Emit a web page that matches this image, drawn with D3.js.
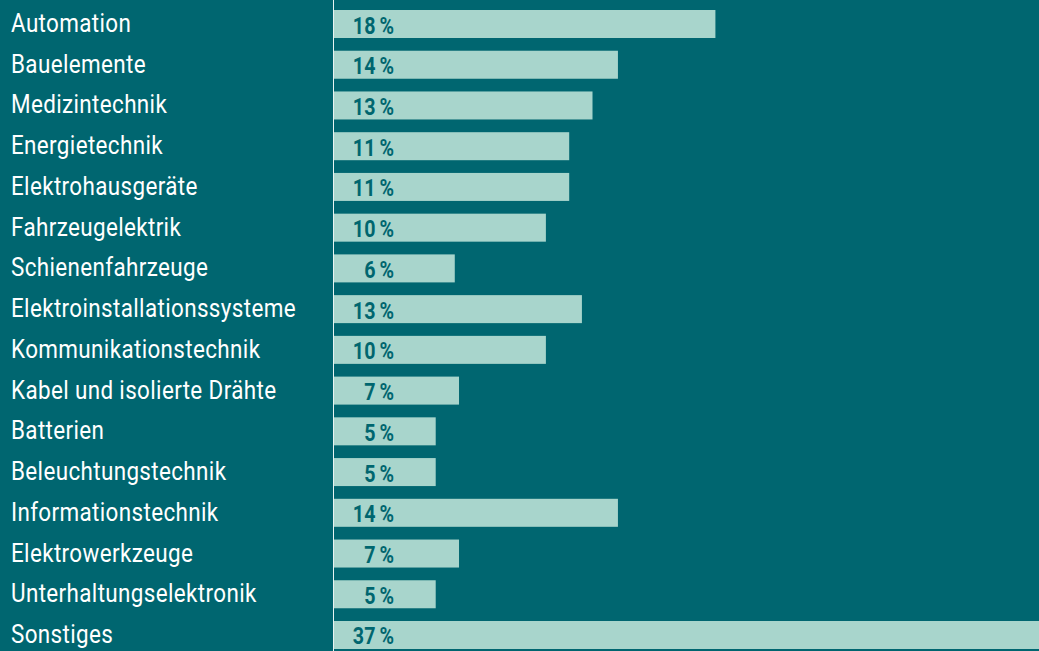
<!DOCTYPE html>
<html>
  <head>
    <meta charset="utf-8">
    <title>Branchen</title>
    <script src="https://d3js.org/d3.v7.min.js"></script>
    <style>
      body { margin: 0; background: #006670; }
      svg { display: block; }
    </style>
  </head>
  <body>
    <svg width="1039" height="651"></svg>
    <script>
      // Kategorien, angezeigte Anteile und aus dem Bild gelesene Balkenlängen
      const categories = [
        "Automation", "Bauelemente", "Medizintechnik", "Energietechnik",
        "Elektrohausgeräte", "Fahrzeugelektrik", "Schienenfahrzeuge",
        "Elektroinstallationssysteme", "Kommunikationstechnik",
        "Kabel und isolierte Drähte", "Batterien", "Beleuchtungstechnik",
        "Informationstechnik", "Elektrowerkzeuge", "Unterhaltungselektronik",
        "Sonstiges"
      ];
      const shares = [18, 14, 13, 11, 11, 10, 6, 13, 10, 7, 5, 5, 14, 7, 5, 37];
      const barValues = [18.0, 13.4, 12.2, 11.1, 11.1, 10.0, 5.7, 11.7, 10.0, 5.9, 4.8, 4.8, 13.4, 5.9, 4.8, 37];

      const data = categories.map((c, i) => ({name: c, share: shares[i], value: barValues[i]}));

      const svg = d3.select("svg");
      const width = +svg.attr("width");
      const height = +svg.attr("height");
      const axisX = 334;

      const x = d3.scaleLinear().domain([0, 37]).range([axisX, axisX + 784]);
      const y = d3.scaleBand()
        .domain(categories)
        .range([10, 649])
        .paddingInner(0.3126)
        .paddingOuter(0);

      svg.append("rect").attr("width", width).attr("height", height).attr("fill", "#006670");

      svg.selectAll("rect.bar").data(data).enter().append("rect")
        .attr("class", "bar")
        .attr("x", x(0))
        .attr("y", d => y(d.name))
        .attr("width", d => x(d.value) - x(0))
        .attr("height", y.bandwidth())
        .attr("fill", "#a8d5cc");

      svg.append("line")
        .attr("x1", axisX - 0.5).attr("x2", axisX - 0.5)
        .attr("y1", 0).attr("y2", height)
        .attr("stroke", "#e8f4f2").attr("stroke-width", 1);

      const names = svg.selectAll("text.name").data(data).enter().append("text")
        .attr("class", "name")
        .attr("y", d => y(d.name) + y.bandwidth() / 2 + 8)
        .attr("fill", "#ffffff")
        .style("font-family", "Roboto, sans-serif")
        .style("font-size", "25px")
        .style("letter-spacing", "0.4px")
        .text(d => d.name);

      // schmale Schrift nachbilden
      const widest = names.filter(d => d.name === "Elektroinstallationssysteme").node().getComputedTextLength();
      const sx = 285 / widest;
      names.attr("transform", `translate(11,0) scale(${sx},1)`);

      svg.selectAll("text.share").data(data).enter().append("text")
        .attr("class", "share")
        .attr("text-anchor", "end")
        .attr("fill", "#00666f")
        .style("font-family", "Roboto, sans-serif")
        .style("font-weight", "bold")
        .style("font-size", "24px")
        .attr("transform", d => `translate(394,${y(d.name) + y.bandwidth() / 2 + 9.5}) scale(0.82,1)`)
        .text(d => `${d.share}\u2009%`);
    </script>
  </body>
</html>
